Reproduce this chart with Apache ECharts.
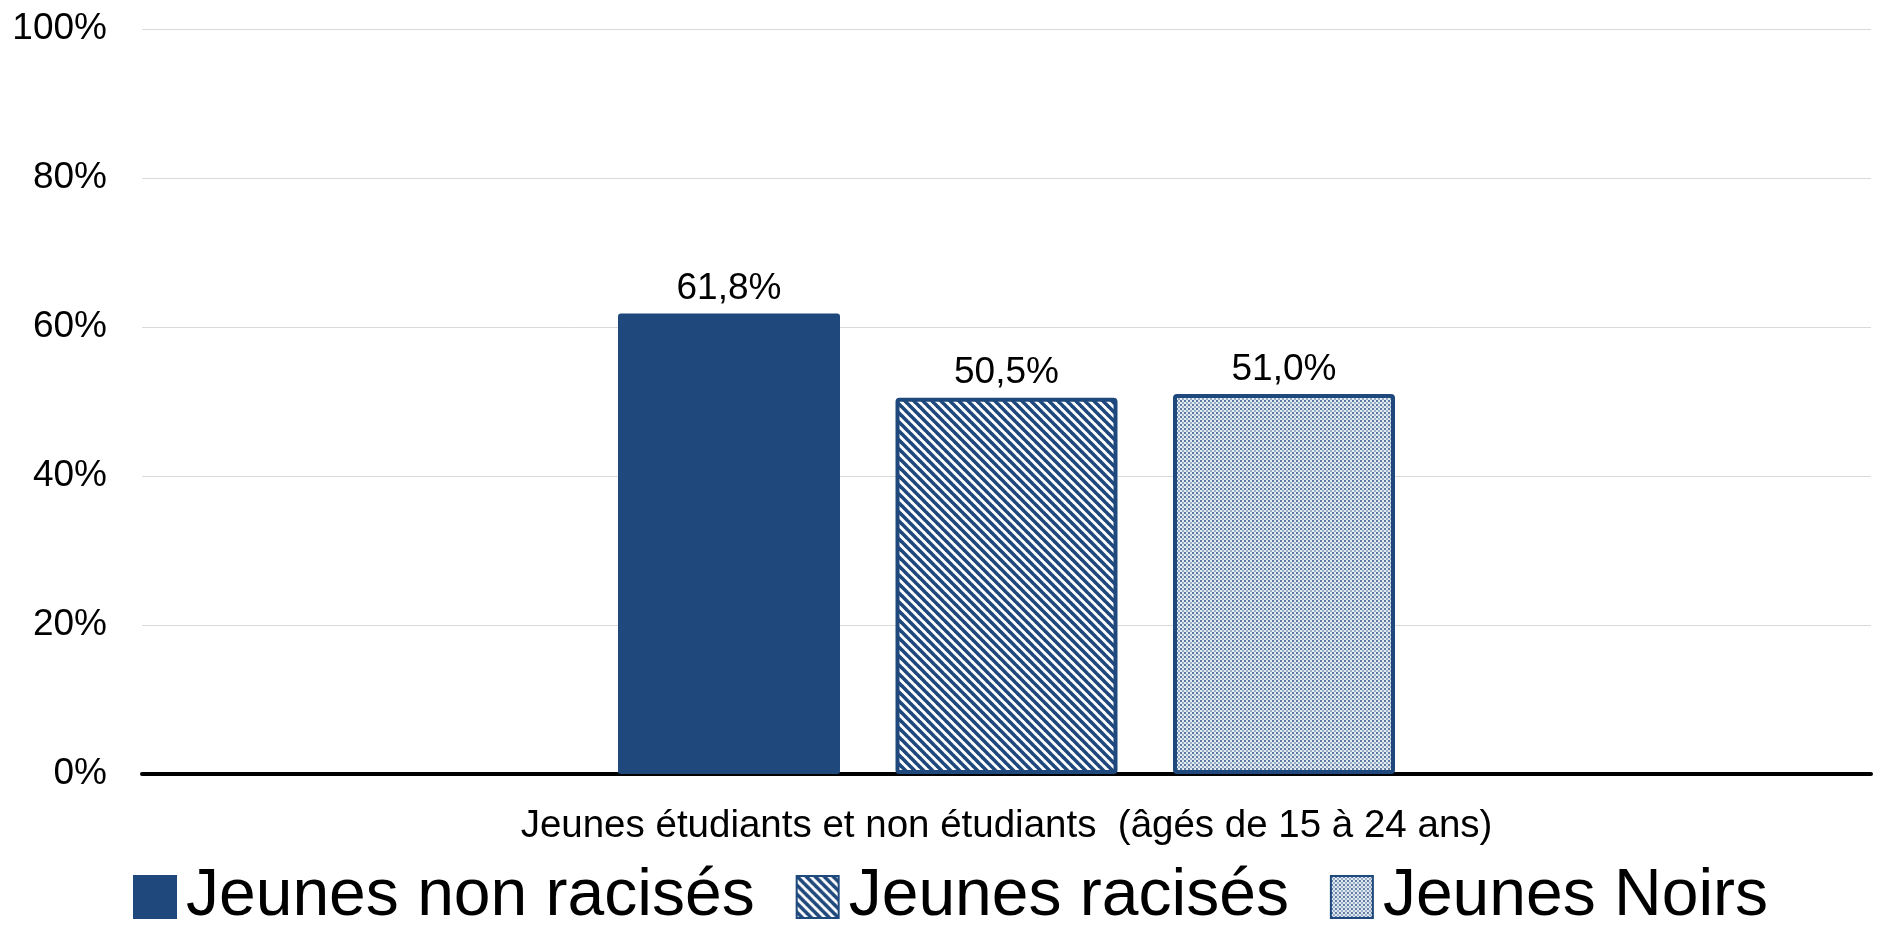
<!DOCTYPE html>
<html>
<head>
<meta charset="utf-8">
<script src="https://cdn.jsdelivr.net/npm/echarts@6/dist/echarts.min.js"></script>
<style>
html,body{margin:0;padding:0;background:#fff;}
#chart{width:1890px;height:945px;}
</style>
</head>
<body>
<div id="chart"></div>
<script>
const categories = ['Jeunes étudiants et non étudiants  (âgés de 15 à 24 ans)'];
const seriesNames = ['Jeunes non racisés', 'Jeunes racisés', 'Jeunes Noirs'];
const valuesNonRacises = [61.8];
const valuesRacises = [50.5];
const valuesNoirs = [51.0];
const yTicks = [0, 20, 40, 60, 80, 100];

const BLUE = '#1F497D';

function stripePattern() {
  const s = 9;
  const c = document.createElement('canvas');
  c.width = s; c.height = s;
  const g = c.getContext('2d');
  g.fillStyle = '#ffffff';
  g.fillRect(0, 0, s, s);
  g.strokeStyle = BLUE;
  g.lineWidth = 3.6;
  for (const o of [-s, 0, s]) {
    g.beginPath();
    g.moveTo(o - 1, -1);
    g.lineTo(o + s + 1, s + 1);
    g.stroke();
  }
  return c;
}
function dotPattern() {
  const c = document.createElement('canvas');
  c.width = 4; c.height = 4;
  const g = c.getContext('2d');
  g.fillStyle = '#e4ebf2';
  g.fillRect(0, 0, 4, 4);
  g.fillStyle = '#5d7aa0';
  g.fillRect(0, 0, 2, 2);
  g.fillStyle = '#9aaec6';
  g.fillRect(2, 2, 2, 2);
  return c;
}

const labelFmt = p => p.value.toFixed(1).replace('.', ',') + '%';
const FONT = 'Liberation Sans, Arial, sans-serif';

const chart = echarts.init(document.getElementById('chart'), null, {renderer: 'canvas'});
const barCommon = {
  type: 'bar',
  barWidth: 222,
  barGap: '25%',
  label: {
    show: true, position: 'top', distance: 6,
    formatter: labelFmt,
    fontSize: 37, fontFamily: FONT, color: '#000'
  }
};
chart.setOption({
  animation: false,
  backgroundColor: '#ffffff',
  textStyle: {fontFamily: FONT},
  grid: {left: 142, right: 19, top: 29, bottom: 171},
  legend: {
    left: 128, top: 859,
    itemWidth: 42, itemHeight: 42, itemGap: 41,
    icon: 'rect',
    textStyle: {fontSize: 66, fontFamily: FONT, color: '#000', padding: [0, 0, 0, 5]},
    data: seriesNames
  },
  xAxis: {
    type: 'category',
    data: categories,
    axisLine: {show: true, lineStyle: {color: '#000', width: 4}},
    axisTick: {show: false},
    axisLabel: {fontSize: 38.5, fontFamily: FONT, color: '#000', margin: 33}
  },
  yAxis: {
    type: 'value',
    min: yTicks[0], max: yTicks[yTicks.length - 1], interval: 20,
    axisLine: {show: false},
    axisTick: {show: false},
    axisLabel: {formatter: '{value}%', fontSize: 37, fontFamily: FONT, color: '#000', margin: 35},
    splitLine: {lineStyle: {color: '#d9d9d9', width: 1}}
  },
  series: [
    Object.assign({}, barCommon, {
      name: seriesNames[0], data: valuesNonRacises,
      itemStyle: {color: BLUE, borderColor: BLUE, borderWidth: 2, borderRadius: 2}
    }),
    Object.assign({}, barCommon, {
      name: seriesNames[1], data: valuesRacises,
      itemStyle: {color: {image: stripePattern(), repeat: 'repeat'}, borderColor: BLUE, borderWidth: 4, borderRadius: 2}
    }),
    Object.assign({}, barCommon, {
      name: seriesNames[2], data: valuesNoirs,
      itemStyle: {color: {image: dotPattern(), repeat: 'repeat'}, borderColor: BLUE, borderWidth: 4, borderRadius: 2}
    })
  ]
});
</script>
</body>
</html>
